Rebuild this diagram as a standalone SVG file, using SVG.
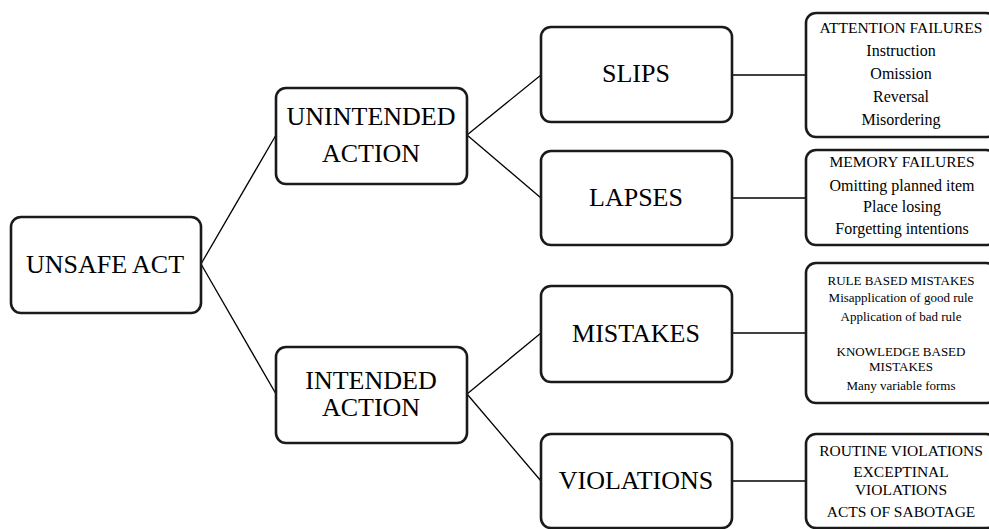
<svg xmlns="http://www.w3.org/2000/svg" width="989" height="529" viewBox="0 0 989 529">
<style>
.box{fill:#fff;stroke:#1a1a1a;stroke-width:2.6}
.big{font-family:"Liberation Serif","Times New Roman",serif;font-size:26px;fill:#000;text-anchor:middle}
.sm{font-family:"Liberation Serif","Times New Roman",serif;fill:#000;text-anchor:middle}
.conn line{stroke:#000;stroke-width:1.3}
</style>
<rect width="989" height="529" fill="#fff"/>
<g id="connectors" class="conn">
<line x1="201" y1="264" x2="276" y2="135"/>
<line x1="201" y1="264" x2="276" y2="394"/>
<line x1="467" y1="135" x2="541" y2="75"/>
<line x1="467" y1="135" x2="541" y2="198"/>
<line x1="467" y1="394" x2="541" y2="333"/>
<line x1="467" y1="394" x2="541" y2="481"/>
<line x1="732" y1="75" x2="806" y2="75"/>
<line x1="732" y1="198" x2="806" y2="198"/>
<line x1="732" y1="333" x2="806" y2="333"/>
<line x1="732" y1="481" x2="806" y2="481"/>
</g>
<g id="unsafe-act">
<rect class="box" x="11" y="217" width="190" height="96" rx="10"/>
<text class="big" x="105" y="273">UNSAFE ACT</text>
</g>
<g id="unintended-action">
<rect class="box" x="276" y="88" width="191" height="96" rx="10"/>
<text class="big" x="371" y="125">UNINTENDED</text>
<text class="big" x="371" y="162">ACTION</text>
</g>
<g id="intended-action">
<rect class="box" x="276" y="347" width="191" height="96" rx="10"/>
<text class="big" x="371" y="389">INTENDED</text>
<text class="big" x="371" y="416">ACTION</text>
</g>
<g id="slips">
<rect class="box" x="541" y="27" width="191" height="95" rx="10"/>
<text class="big" x="636" y="82">SLIPS</text>
</g>
<g id="lapses">
<rect class="box" x="541" y="151" width="191" height="94" rx="10"/>
<text class="big" x="636" y="206">LAPSES</text>
</g>
<g id="mistakes">
<rect class="box" x="541" y="286" width="191" height="96" rx="10"/>
<text class="big" x="636" y="342">MISTAKES</text>
</g>
<g id="violations">
<rect class="box" x="541" y="434" width="191" height="94" rx="10"/>
<text class="big" x="636" y="489">VIOLATIONS</text>
</g>
<g id="attention-failures">
<rect class="box" x="806" y="13" width="190" height="124" rx="10"/>
<text class="sm" x="901" y="33" font-size="15.5">ATTENTION FAILURES</text>
<text class="sm" x="901" y="56" font-size="16">Instruction</text>
<text class="sm" x="901" y="79" font-size="16">Omission</text>
<text class="sm" x="901" y="102" font-size="16">Reversal</text>
<text class="sm" x="901" y="125" font-size="16">Misordering</text>
</g>
<g id="memory-failures">
<rect class="box" x="806" y="150" width="190" height="95" rx="10"/>
<text class="sm" x="902" y="167" font-size="15.5">MEMORY FAILURES</text>
<text class="sm" x="902" y="190.5" font-size="16">Omitting planned item</text>
<text class="sm" x="902" y="212" font-size="16">Place losing</text>
<text class="sm" x="902" y="234" font-size="16">Forgetting intentions</text>
</g>
<g id="mistake-types">
<rect class="box" x="806" y="263" width="190" height="140" rx="10"/>
<text class="sm" x="901" y="285" font-size="13">RULE BASED MISTAKES</text>
<text class="sm" x="901" y="302" font-size="13">Misapplication of good rule</text>
<text class="sm" x="901" y="321" font-size="13">Application of bad rule</text>
<text class="sm" x="901" y="356" font-size="13">KNOWLEDGE BASED</text>
<text class="sm" x="901" y="371" font-size="13">MISTAKES</text>
<text class="sm" x="901" y="390" font-size="13">Many variable forms</text>
</g>
<g id="violation-types">
<rect class="box" x="806" y="434" width="190" height="94" rx="10"/>
<text class="sm" x="901" y="456" font-size="15.5">ROUTINE VIOLATIONS</text>
<text class="sm" x="901" y="477" font-size="15.5">EXCEPTINAL</text>
<text class="sm" x="901" y="495" font-size="15.5">VIOLATIONS</text>
<text class="sm" x="901" y="517" font-size="15.5">ACTS OF SABOTAGE</text>
</g>
</svg>
